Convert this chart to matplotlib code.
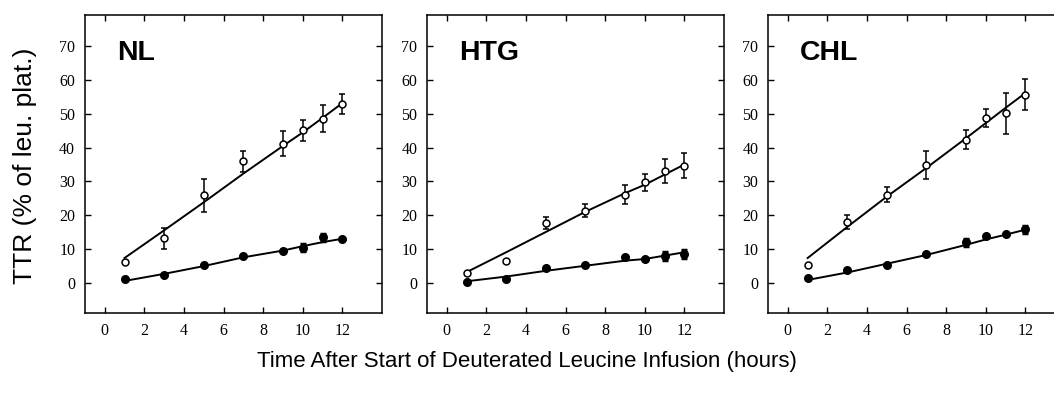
import numpy as np
import matplotlib.pyplot as plt

# sampling times (hours)
hours = [1, 3, 5, 7, 9, 10, 11, 12]

panels = ['NL', 'HTG', 'CHL']

# open circles (upper series), values and error bars
open_y = {
    'NL':  [6.2, 13.1, 25.9, 35.9, 41.2, 45.1, 48.5, 53.0],
    'HTG': [2.9, 6.5, 17.7, 21.3, 26.1, 29.7, 33.0, 34.7],
    'CHL': [5.1, 17.9, 26.1, 34.8, 42.3, 48.8, 50.2, 55.7],
}
open_err = {
    'NL':  [0.0, 3.2, 4.9, 3.0, 3.8, 3.0, 4.0, 2.9],
    'HTG': [0.0, 0.0, 1.7, 1.9, 2.9, 2.6, 3.6, 3.8],
    'CHL': [0.0, 2.0, 2.3, 4.2, 2.8, 2.7, 6.1, 4.6],
}
# filled circles (lower series)
filled_y = {
    'NL':  [1.0, 2.4, 5.2, 7.9, 9.5, 10.4, 13.4, 13.0],
    'HTG': [0.3, 1.0, 4.2, 5.2, 7.5, 6.9, 7.8, 8.5],
    'CHL': [1.3, 3.6, 5.1, 8.4, 12.0, 13.9, 14.3, 15.8],
}
filled_err = {
    'NL':  [0.0, 0.0, 0.0, 0.0, 0.0, 1.0, 1.0, 0.0],
    'HTG': [0.0, 0.0, 0.0, 0.0, 0.0, 0.0, 1.2, 1.3],
    'CHL': [0.0, 0.0, 0.0, 0.0, 1.0, 0.0, 0.0, 1.0],
}
# model fit curves
open_fit = {
    'NL':  [7.3, 15.5, 23.8, 32.3, 40.5, 44.5, 48.8, 53.2],
    'HTG': [3.1, 9.0, 15.0, 21.0, 26.5, 29.0, 32.0, 35.0],
    'CHL': [7.3, 16.5, 25.5, 34.0, 42.8, 47.3, 51.8, 56.2],
}
filled_fit = {
    'NL':  [0.5, 2.6, 4.9, 7.5, 9.5, 10.8, 12.0, 13.0],
    'HTG': [0.4, 1.8, 3.5, 5.0, 6.5, 7.0, 8.0, 9.0],
    'CHL': [0.8, 3.0, 5.6, 8.2, 11.2, 12.8, 14.2, 15.7],
}

fig = plt.figure(figsize=(10.54, 3.99), dpi=100)
lefts = [0.0806, 0.4051, 0.7287]

for i, (left, name) in enumerate(zip(lefts, panels)):
    ax = fig.add_axes([left, 0.2155, 0.2818, 0.747])
    ax.plot(hours, open_fit[name], color='black', lw=1.4, zorder=2)
    ax.plot(hours, filled_fit[name], color='black', lw=1.4, zorder=2)
    ax.errorbar(hours, open_y[name], yerr=open_err[name], fmt='o', ms=5,
                mfc='white', mec='black', mew=1.1, ecolor='black',
                elinewidth=1.1, capsize=2.5, capthick=1.1, zorder=3)
    ax.errorbar(hours, filled_y[name], yerr=filled_err[name], fmt='o', ms=5.5,
                mfc='black', mec='black', ecolor='black',
                elinewidth=2.5, capsize=2.5, capthick=2.5, zorder=3)

    ax.set_xlim(-1, 14)
    ax.set_ylim(-9, 79.3)
    ax.set_xticks(range(0, 13, 2))
    ax.set_yticks(range(0, 71, 10))
    # last panel runs past the right edge of the page
    last = i == len(panels) - 1
    ax.tick_params(direction='in', length=4, width=1.0, top=True,
                   right=not last, labelsize=11.5, pad=7)
    for lab in ax.get_xticklabels() + ax.get_yticklabels():
        lab.set_fontfamily('Liberation Serif')
    for sp in ax.spines.values():
        sp.set_linewidth(1.1)
    if last:
        ax.spines['right'].set_visible(False)
    ax.text(0.6, 68, name, fontsize=20.5, fontweight='bold',
            family='Liberation Sans', va='center', ha='left')

fig.text(0.024, 0.585, 'TTR (% of leu. plat.)', rotation=90, fontsize=19,
         family='Liberation Sans', ha='center', va='center')
fig.text(0.5, 0.095, 'Time After Start of Deuterated Leucine Infusion (hours)',
         fontsize=16, family='Liberation Sans', ha='center', va='center')

fig.savefig('out.png', dpi=100)
